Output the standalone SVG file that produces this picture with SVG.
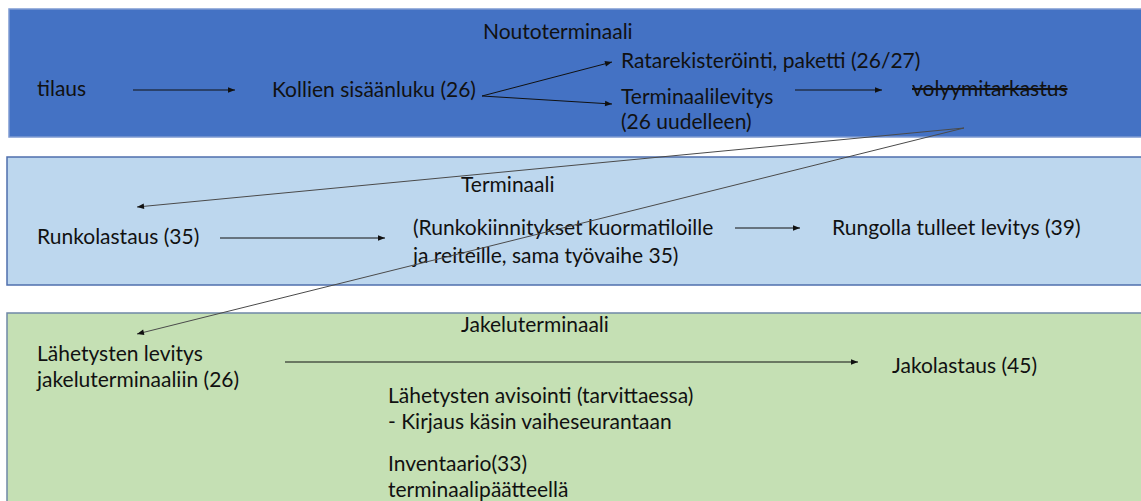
<svg xmlns="http://www.w3.org/2000/svg" width="1141" height="501" viewBox="0 0 1141 501">
<style>
text{font-family:Lato,"Liberation Sans",Arial,sans-serif;font-size:21px;fill:#111}
.band1{fill:#4472C4;stroke:#7E9BD2;stroke-width:1.5}
.band2{fill:#BDD7EE;stroke:#4F6FAD;stroke-width:1.5}
.band3{fill:#C5E0B4;stroke:#6F88A6;stroke-width:1.5}
.c{fill:none;stroke:#111;stroke-width:1;marker-end:url(#ah)}
.d{fill:none;stroke:#4a4a4a;stroke-width:1;marker-end:url(#ah)}
</style>
<defs>
<marker id="ah" viewBox="0 0 10 10" refX="10" refY="5" markerWidth="8" markerHeight="7" markerUnits="userSpaceOnUse" orient="auto">
<path d="M0,1 L10,5 L0,9 z" fill="#111"/>
</marker>
</defs>
<g id="bands">
<rect id="noutoterminaali-band" class="band1" x="9" y="9" width="1140" height="128"/>
<rect id="terminaali-band" class="band2" x="7" y="157" width="1142" height="128"/>
<rect id="jakeluterminaali-band" class="band3" x="7" y="313" width="1142" height="200"/>
</g>
<g id="labels">
<text x="483" y="39">Noutoterminaali</text>
<text x="461" y="192">Terminaali</text>
<text x="461" y="332">Jakeluterminaali</text>
</g>
<g id="n-tilaus"><text x="37" y="96">tilaus</text></g>
<g id="n-kollien"><text x="272" y="97">Kollien sisäänluku (26)</text></g>
<g id="n-ratarek"><text x="621" y="68">Ratarekisteröinti, paketti (26/27)</text></g>
<g id="n-termlev"><text x="621" y="104">Terminaalilevitys</text><text x="621" y="129">(26 uudelleen)</text></g>
<g id="n-volyymi"><text x="912" y="96" text-decoration="line-through">volyymitarkastus</text></g>
<g id="n-runkolastaus"><text x="37" y="244">Runkolastaus (35)</text></g>
<g id="n-runkokiin"><text x="413" y="235">(Runkokiinnitykset kuormatiloille</text><text x="413" y="263">ja reiteille, sama työvaihe 35)</text></g>
<g id="n-rungolla"><text x="832" y="235">Rungolla tulleet levitys (39)</text></g>
<g id="n-lahlev"><text x="37" y="361">Lähetysten levitys</text><text x="37" y="387">jakeluterminaaliin (26)</text></g>
<g id="n-jakolastaus"><text x="892" y="373">Jakolastaus (45)</text></g>
<g id="n-avisointi"><text x="388" y="403">Lähetysten avisointi (tarvittaessa)</text><text x="388" y="429">- Kirjaus käsin vaiheseurantaan</text></g>
<g id="n-inventaario"><text x="388" y="471">Inventaario(33)</text><text x="388" y="497">terminaalipäätteellä</text></g>
<g id="connectors">
<line class="c" x1="482" y1="96" x2="612" y2="62"/>
<line class="c" x1="482" y1="96" x2="612" y2="104"/>
<line class="c" x1="133" y1="90" x2="235" y2="90"/>
<line class="c" x1="795" y1="90" x2="882" y2="90"/>
<line class="d" x1="964" y1="128" x2="137" y2="207"/>
<line class="d" x1="964" y1="128" x2="137" y2="334"/>
<line class="c" x1="220" y1="238" x2="385" y2="238"/>
<line class="c" x1="735" y1="228" x2="800" y2="228"/>
<line class="c" x1="285" y1="362" x2="858" y2="362"/>
</g>
</svg>
